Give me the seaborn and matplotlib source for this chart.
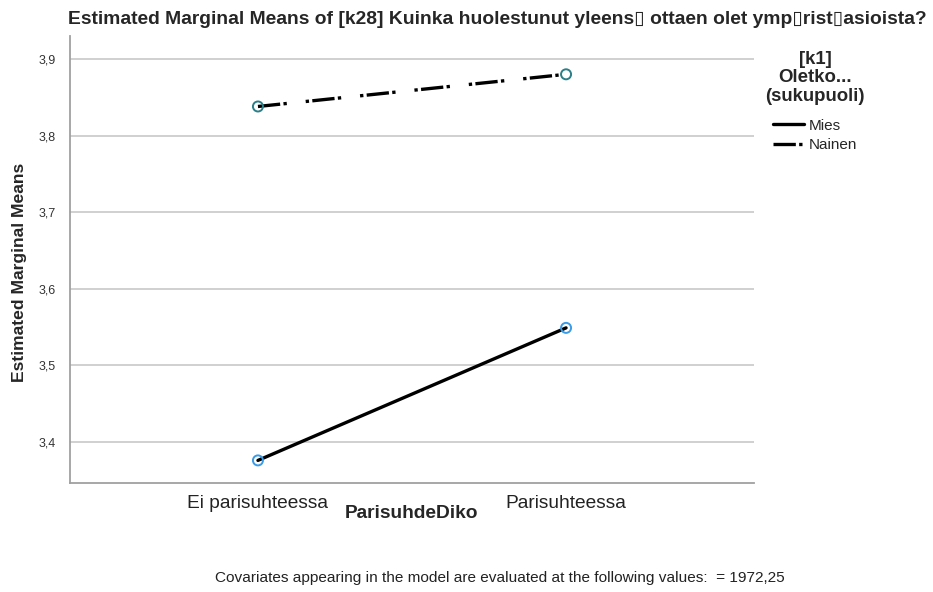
import pandas as pd
import matplotlib
matplotlib.use("Agg")
import matplotlib.pyplot as plt
import seaborn as sns

# data
categories = ["Ei parisuhteessa", "Parisuhteessa"]
groups = ["Mies", "Nainen"]
mies_means = [3.376, 3.549]
nainen_means = [3.838, 3.880]
y_ticks = [3.4, 3.5, 3.6, 3.7, 3.8, 3.9]
y_tick_labels = ["3,4", "3,5", "3,6", "3,7", "3,8", "3,9"]

df = pd.DataFrame({
    "ParisuhdeDiko": categories * 2,
    "sukupuoli": [groups[0]] * 2 + [groups[1]] * 2,
    "emm": mies_means + nainen_means,
})
df["pos"] = df["ParisuhdeDiko"].map({c: i for i, c in enumerate(categories)})

sns.set_theme(style="white")
plt.rcParams["font.family"] = ["Liberation Sans", "DejaVu Sans"]

fig = plt.figure(figsize=(9.33, 5.92), dpi=100)
ax = fig.add_axes([70 / 933, 109 / 592, 684 / 933, 447 / 592])

sns.lineplot(data=df, x="pos", y="emm", hue="sukupuoli", style="sukupuoli",
             palette={"Mies": "black", "Nainen": "black"},
             dashes={"Mies": "", "Nainen": (6.7, 1, 1, 5.7, 1, 1)},
             linewidth=2.4, ax=ax, legend=True)
sns.scatterplot(data=df, x="pos", y="emm", hue="sukupuoli",
                palette={"Mies": "#3a9be6", "Nainen": "#2a7f88"},
                marker="o", s=52, linewidth=1.4,
                ax=ax, legend=False, zorder=5)
# hollow markers with coloured edges
for coll in ax.collections:
    coll.set_edgecolors(coll.get_facecolors())
    coll.set_facecolors("none")

ax.set_xlim(-0.61, 1.61)
ax.set_ylim(3.3465, 3.930)
ax.set_xticks(range(len(categories)))
ax.set_xticklabels(categories, fontsize=13.8, color="#222222")
ax.set_yticks(y_ticks)
ax.set_yticklabels(y_tick_labels, fontsize=9, color="#333333")
ax.tick_params(axis="y", length=0, pad=10)
ax.tick_params(axis="x", length=0, pad=9)
ax.yaxis.grid(True, color="#c8c8c8", linewidth=1.2)
ax.set_axisbelow(True)
for side in ["top", "right"]:
    ax.spines[side].set_visible(False)
for side in ["left", "bottom"]:
    ax.spines[side].set_color("#a0a0a0")
    ax.spines[side].set_linewidth(1.3)

ax.set_xlabel("")
ax.set_ylabel("")
fig.text(412 / 933, 1 - 514 / 592, "ParisuhdeDiko", ha="center", va="center",
         fontsize=13.8, fontweight="bold")
fig.text(20 / 933, 1 - 272 / 592, "Estimated Marginal Means", ha="center",
         va="center", rotation=90, fontsize=12.6, fontweight="bold")
fig.text(68 / 933, 1 - 19 / 592,
         "Estimated Marginal Means of [k28] Kuinka huolestunut yleens\u25af ottaen olet "
         "ymp\u25afrist\u25afasioista?",
         ha="left", va="center", fontsize=13.9, fontweight="bold")
fig.text(500 / 933, 1 - 578 / 592,
         "Covariates appearing in the model are evaluated at the following values:  = 1972,25",
         ha="center", va="center", fontsize=11.1, color="#222222")

handles, labels = ax.get_legend_handles_labels()
ax.get_legend().remove()
leg = fig.legend(handles, labels, title="[k1]\nOletko...\n(sukupuoli)",
                 loc="upper center", bbox_to_anchor=(815 / 933, 1 - 37 / 592),
                 frameon=False, fontsize=11, handlelength=2.0, handletextpad=0.3,
                 labelspacing=0.35, title_fontproperties={"weight": "bold", "size": 13.4})
leg.get_title().set_multialignment("center")
leg.get_title().set_linespacing(1.12)
leg._legend_box.sep = 10

fig.savefig("out.png", dpi=100)
